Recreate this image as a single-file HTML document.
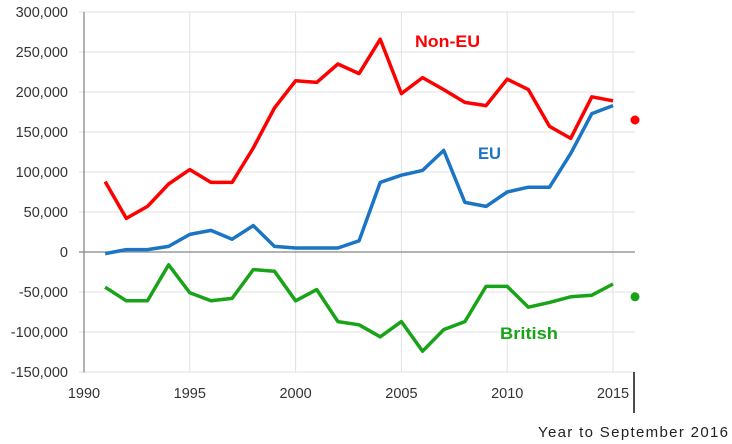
<!DOCTYPE html>
<html><head><meta charset="utf-8"><style>
body{margin:0;background:#fff;}
svg{display:block;font-family:"Liberation Sans",sans-serif;}
</style></head><body>
<svg id="chart" width="732" height="444"></svg>
<script>
const years=[1991,1992,1993,1994,1995,1996,1997,1998,1999,2000,2001,2002,2003,2004,2005,2006,2007,2008,2009,2010,2011,2012,2013,2014,2015];
const nonEU=[88000,42000,57000,85000,103000,87000,87000,130000,180000,214000,212000,235000,223000,266000,198000,218000,203000,187000,183000,216000,203000,157000,142000,194000,189000];
const eu=[-2000,3000,3000,7000,22000,27000,16000,33000,7000,5000,5000,5000,14000,87000,96000,102000,127000,62000,57000,75000,81000,81000,123000,173000,183000];
const british=[-44000,-61000,-61000,-16000,-51000,-61000,-58000,-22000,-24000,-61000,-47000,-87000,-91000,-106000,-87000,-124000,-97000,-87000,-43000,-43000,-69000,-63000,-56000,-54000,-40000];
const latestNonEU=165000;
const latestBritish=-56000;
const yTicks=[300000,250000,200000,150000,100000,50000,0,-50000,-100000,-150000];
const xTicks=[1990,1995,2000,2005,2010,2015];

const NS="http://www.w3.org/2000/svg";
const svg=document.getElementById('chart');
const X=v=>84+(v-1990)*21.16;
const Y=v=>252-v*0.0008;
function el(t,a,p){const e=document.createElementNS(NS,t);for(const k in a)e.setAttribute(k,a[k]);(p||svg).appendChild(e);return e;}

const grid=el('g',{});


xTicks.slice(1).forEach(t=>{
  const l=el('line',{x1:X(t),x2:X(t),y1:Y(300000),y2:Y(-150000),stroke:'#e2e2e2','stroke-width':1},grid);
  
  
});
yTicks.forEach(t=>{
  const l=el('line',{x1:79,x2:635,y1:Y(t),y2:Y(t),stroke:t===0?'#888':'#e2e2e2','stroke-width':t===0?1.3:1},grid);
  
  
  const tx=el('text',{x:68,y:Y(t)+5,'text-anchor':'end','font-size':14.5,fill:'#333'});
  tx.textContent=t.toLocaleString('en-US');
  
  
});
const ax=el('line',{x1:84,x2:84,y1:Y(300000),y2:Y(-150000)+0.5,stroke:'#888','stroke-width':1.3});


xTicks.forEach(t=>{
  const tx=el('text',{x:X(t),y:398,'text-anchor':'middle','font-size':14.5,fill:'#333'});
  tx.textContent=t;
  
  
});
const mk=el('line',{x1:634,x2:634,y1:372,y2:413,stroke:'#111','stroke-width':1.5});


const yl=el('text',{x:538,y:437,'font-size':15,fill:'#222',textLength:190,lengthAdjust:'spacing'});
yl.textContent='Year to September 2016';



function series(vals,color,name){
  const p=el('polyline',{points:vals.map((v,i)=>X(years[i])+','+Y(v)).join(' '),fill:'none',stroke:color,'stroke-width':3.5,'stroke-linejoin':'round'});
  
  
}
series(nonEU,'#ff0000','non-eu-line');
series(eu,'#1c75c4','eu-line');
series(british,'#19a319','british-line');

const d1=el('circle',{cx:635,cy:Y(latestNonEU),r:4.5,fill:'#ff0000'});


const d2=el('circle',{cx:635,cy:Y(latestBritish),r:4.5,fill:'#19a319'});



[['Non-EU',415,47,'#ff0000','non-eu-label',65],['EU',478,159,'#1c75c4','eu-label',23],['British',500,339,'#19a319','british-label',58]].forEach(a=>{
  const t=el('text',{x:a[1],y:a[2],'font-size':17,'font-weight':'bold',fill:a[3],textLength:a[5],lengthAdjust:'spacingAndGlyphs'});
  t.textContent=a[0];
  
  
});
</script>
</body></html>
